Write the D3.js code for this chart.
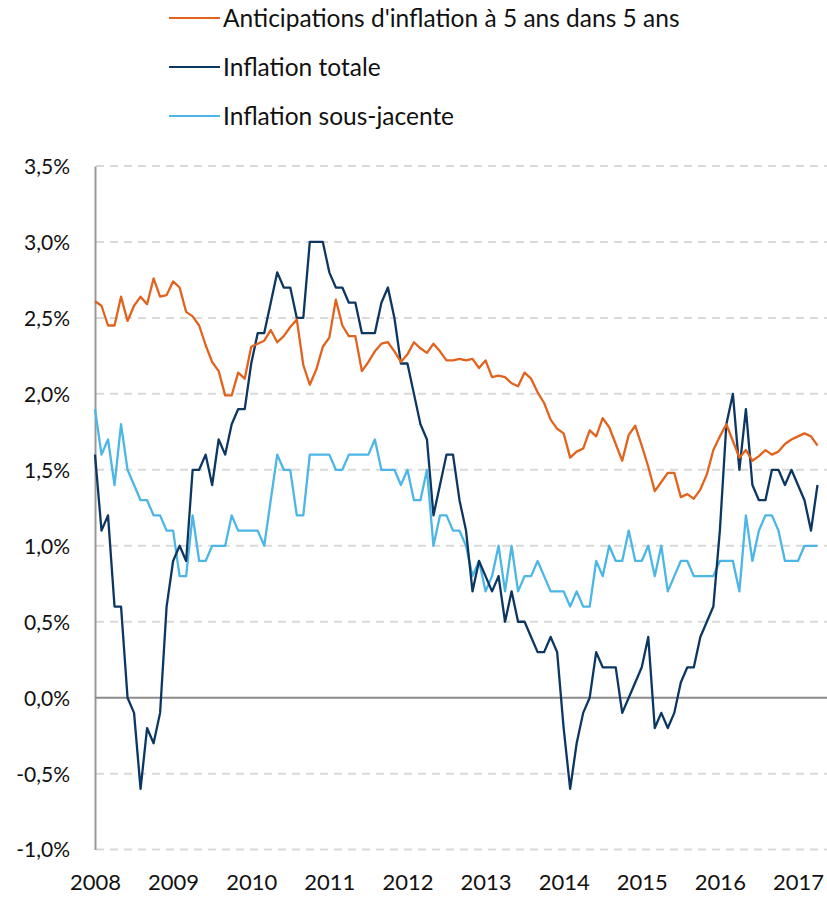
<!DOCTYPE html>
<html>
<head>
<meta charset="utf-8">
<script src="https://cdn.jsdelivr.net/npm/d3@7"></script>
<style>
  body { margin: 0; background: #fff; }
  svg text { font-family: Lato, "Open Sans", sans-serif; fill: #111; }
</style>
</head>
<body>
<svg id="chart" width="827" height="898"></svg>
<script>
// monthly, Jan 2008 .. Apr 2017
var years = [2008, 2009, 2010, 2011, 2012, 2013, 2014, 2015, 2016, 2017];
var yTicks = [-1, -0.5, 0, 0.5, 1, 1.5, 2, 2.5, 3, 3.5];
var seriesNames = ["Anticipations d'inflation à 5 ans dans 5 ans", "Inflation totale", "Inflation sous-jacente"];
var seriesColors = ["#e2631e", "#0c3762", "#4cb6e6"];

var anticipations = [
  2.61, 2.58, 2.45, 2.45, 2.64, 2.48, 2.58, 2.64, 2.59, 2.76, 2.64, 2.65,
  2.74, 2.70, 2.54, 2.51, 2.45, 2.32, 2.21, 2.15, 1.99, 1.99, 2.14, 2.10,
  2.31, 2.33, 2.35, 2.42, 2.34, 2.38, 2.44, 2.49, 2.19, 2.06, 2.16, 2.31,
  2.37, 2.62, 2.45, 2.38, 2.38, 2.15, 2.21, 2.28, 2.33, 2.34, 2.28, 2.21,
  2.26, 2.34, 2.30, 2.27, 2.33, 2.28, 2.22, 2.22, 2.23, 2.22, 2.23, 2.17,
  2.22, 2.11, 2.12, 2.11, 2.07, 2.05, 2.14, 2.10, 2.01, 1.94, 1.83, 1.77,
  1.74, 1.58, 1.62, 1.64, 1.76, 1.72, 1.84, 1.78, 1.67, 1.56, 1.73, 1.79,
  1.66, 1.52, 1.36, 1.42, 1.48, 1.48, 1.32, 1.34, 1.31, 1.37, 1.47, 1.63,
  1.72, 1.80, 1.69, 1.58, 1.63, 1.56, 1.59, 1.63, 1.60, 1.62, 1.67, 1.70,
  1.72, 1.74, 1.72, 1.66
];
var totale = [
  1.6, 1.1, 1.2, 0.6, 0.6, 0.0, -0.1, -0.6, -0.2, -0.3, -0.1, 0.6,
  0.9, 1.0, 0.9, 1.5, 1.5, 1.6, 1.4, 1.7, 1.6, 1.8, 1.9, 1.9,
  2.2, 2.4, 2.4, 2.6, 2.8, 2.7, 2.7, 2.5, 2.5, 3.0, 3.0, 3.0,
  2.8, 2.7, 2.7, 2.6, 2.6, 2.4, 2.4, 2.4, 2.6, 2.7, 2.5, 2.2,
  2.2, 2.0, 1.8, 1.7, 1.2, 1.4, 1.6, 1.6, 1.3, 1.1, 0.7, 0.9,
  0.8, 0.7, 0.8, 0.5, 0.7, 0.5, 0.5, 0.4, 0.3, 0.3, 0.4, 0.3,
  -0.2, -0.6, -0.3, -0.1, 0.0, 0.3, 0.2, 0.2, 0.2, -0.1, 0.0, 0.1,
  0.2, 0.4, -0.2, -0.1, -0.2, -0.1, 0.1, 0.2, 0.2, 0.4, 0.5, 0.6,
  1.1, 1.8, 2.0, 1.5, 1.9, 1.4, 1.3, 1.3, 1.5, 1.5, 1.4, 1.5,
  1.4, 1.3, 1.1, 1.4
];
var sousJacente = [
  1.9, 1.6, 1.7, 1.4, 1.8, 1.5, 1.4, 1.3, 1.3, 1.2, 1.2, 1.1,
  1.1, 0.8, 0.8, 1.2, 0.9, 0.9, 1.0, 1.0, 1.0, 1.2, 1.1, 1.1,
  1.1, 1.1, 1.0, 1.3, 1.6, 1.5, 1.5, 1.2, 1.2, 1.6, 1.6, 1.6,
  1.6, 1.5, 1.5, 1.6, 1.6, 1.6, 1.6, 1.7, 1.5, 1.5, 1.5, 1.4,
  1.5, 1.3, 1.3, 1.5, 1.0, 1.2, 1.2, 1.1, 1.1, 1.0, 0.8, 0.9,
  0.7, 0.8, 1.0, 0.7, 1.0, 0.7, 0.8, 0.8, 0.9, 0.8, 0.7, 0.7,
  0.7, 0.6, 0.7, 0.6, 0.6, 0.9, 0.8, 1.0, 0.9, 0.9, 1.1, 0.9,
  0.9, 1.0, 0.8, 1.0, 0.7, 0.8, 0.9, 0.9, 0.8, 0.8, 0.8, 0.8,
  0.9, 0.9, 0.9, 0.7, 1.2, 0.9, 1.1, 1.2, 1.2, 1.1, 0.9, 0.9,
  0.9, 1.0, 1.0, 1.0
];

var svg = d3.select("#chart");

var x = d3.scaleLinear()
  .domain([0, anticipations.length - 1])
  .range([95, 817.5]);

var y = d3.scaleLinear()
  .domain([-1, 3.5])
  .range([849.6, 166]);

var fmt = function(v) { return d3.format(".1f")(v).replace(".", ",").replace("−", "-") + "%"; };

// grid
svg.append("g")
  .selectAll("line")
  .data(yTicks.filter(function(d) { return d !== 0; }))
  .enter().append("line")
  .attr("x1", 96).attr("x2", 827)
  .attr("y1", function(d) { return y(d); })
  .attr("y2", function(d) { return y(d); })
  .attr("stroke", "#d9d9d9")
  .attr("stroke-width", 2)
  .attr("stroke-dasharray", "8,6");

// y axis
var yAxis = svg.append("g")
  .attr("transform", "translate(95,0)")
  .call(d3.axisLeft(y).tickValues(yTicks).tickFormat(fmt).tickSize(0).tickPadding(25));
yAxis.select(".domain").attr("stroke", "#999").attr("stroke-width", 2);
yAxis.selectAll("text").style("font-size", "21px").attr("dy", "0.35em");

// zero line
svg.append("line")
  .attr("x1", 95).attr("x2", 827)
  .attr("y1", y(0)).attr("y2", y(0))
  .attr("stroke", "#8c8c8c")
  .attr("stroke-width", 2);

// x axis labels
var xAxis = svg.append("g")
  .attr("transform", "translate(0,849.6)")
  .call(d3.axisBottom(x)
    .tickValues(years.map(function(d, i) { return i * 12; }))
    .tickFormat(function(d, i) { return years[i]; })
    .tickSize(0).tickPadding(25));
xAxis.select(".domain").remove();
xAxis.selectAll("text").style("font-size", "22px");

// lines
var line = d3.line()
  .x(function(d, i) { return x(i); })
  .y(function(d) { return y(d); });

var allSeries = [anticipations, totale, sousJacente];
[2, 1, 0].forEach(function(k) {
  svg.append("path")
    .datum(allSeries[k])
    .attr("fill", "none")
    .attr("stroke", seriesColors[k])
    .attr("stroke-width", 2.3)
    .attr("stroke-linejoin", "round")
    .attr("d", line);
});

// legend
var legend = svg.append("g")
  .selectAll("g")
  .data(seriesNames)
  .enter().append("g")
  .attr("transform", function(d, i) { return "translate(169," + (18 + i * 49) + ")"; });
legend.append("line")
  .attr("x1", 0).attr("x2", 51)
  .attr("stroke", function(d, i) { return seriesColors[i]; })
  .attr("stroke-width", 2);
legend.append("text")
  .attr("x", 54)
  .attr("dy", "0.35em")
  .style("font-size", "24.5px")
  .text(function(d) { return d; });
</script>
</body>
</html>
